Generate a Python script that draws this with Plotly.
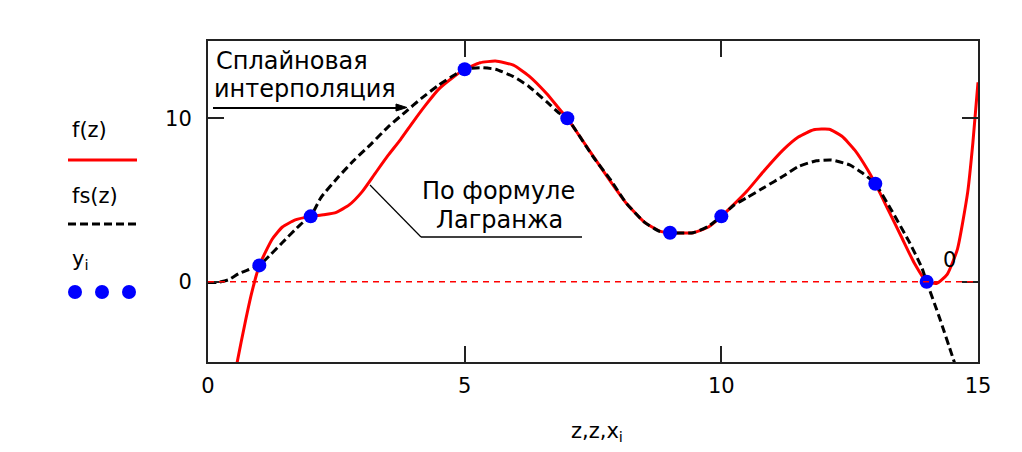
import plotly.graph_objects as go

# ---- data ----
x_i = [1, 2, 5, 7, 9, 10, 13, 14]
y_i = [1, 4, 13, 10, 3, 4, 6, 0]

z_f = [0.5, 0.57, 0.72, 0.85, 1.0, 1.25, 1.45, 1.7, 2.0, 2.25, 2.5, 2.75, 3.0, 3.25,
       3.5, 3.75, 4.0, 4.25, 4.5, 4.75, 5.0, 5.3, 5.6, 5.95, 6.25, 6.6, 6.85, 7.0,
       7.5, 7.85, 8.15, 8.5, 8.8, 9.0, 9.45, 9.75, 10.0, 10.25, 10.5, 10.85, 11.2,
       11.5, 11.8, 12.1, 12.35, 12.6, 12.85, 13.0, 13.25, 13.5, 13.75, 14.0, 14.2,
       14.4, 14.6, 14.8, 14.9, 15.0]
f_vals = [-6.3, -4.9, -2.55, -0.7, 1.0, 2.6, 3.35, 3.78, 4.0, 4.1, 4.25, 4.7, 5.5, 6.6,
          7.7, 8.7, 9.8, 10.85, 11.8, 12.45, 13.0, 13.4, 13.5, 13.25, 12.6, 11.5, 10.55, 10.0,
          7.7, 6.1, 4.8, 3.65, 3.1, 3.0, 3.0, 3.35, 4.0, 4.75, 5.55, 6.85, 8.05,
          8.85, 9.3, 9.33, 8.9, 8.05, 6.85, 6.0, 4.4, 2.8, 1.2, 0.0, -0.1,
          0.45, 2.0, 5.5, 8.5, 12.2]

z_s = [0.0, 0.2, 0.4, 0.6, 0.8, 1.0, 1.2, 1.45, 1.8, 2.0, 2.2, 2.55, 2.85, 3.2, 3.5,
       3.85, 4.15, 4.5, 4.8, 5.0, 5.3, 5.6, 5.95, 6.25, 6.6, 6.85, 7.0, 7.5, 7.85,
       8.15, 8.5, 8.8, 9.0, 9.45, 9.75, 10.0, 10.25, 10.5, 10.85, 11.2, 11.5, 11.85,
       12.15, 12.5, 12.75, 13.0, 13.3, 13.65, 13.9, 14.0, 14.25, 14.5, 14.6]
fs_vals = [-0.05, -0.03, 0.12, 0.5, 0.75, 1.0, 1.6, 2.4, 3.5, 4.0, 5.15, 6.45, 7.45, 8.5, 9.45,
           10.4, 11.2, 12.05, 12.65, 13.0, 13.1, 13.0, 12.55, 11.95, 11.0, 10.3, 10.0, 7.65, 6.2,
           4.8, 3.65, 3.08, 3.0, 3.0, 3.4, 4.0, 4.7, 5.15, 5.8, 6.45, 7.05, 7.4,
           7.45, 7.15, 6.65, 6.0, 4.45, 2.5, 0.9, 0.0, -2.2, -4.55, -5.5]

marker_y = 0
x_ticks = [0, 5, 10, 15]
y_ticks = [0, 10]
x_range = [0, 15]
y_range = [-4.91, 14.73]

# ---- layout helpers (pixel -> paper) ----
W, H = 1022, 452
L, R, T, B = 208, 44, 41, 90
def px(X):
    return (X - L) / (W - L - R)
def py(Y):
    return (H - B - Y) / (H - T - B)

FONT = "DejaVu Sans"

fig = go.Figure()
fig.add_trace(go.Scatter(x=z_f, y=f_vals, mode="lines", name="f(z)",
                         line=dict(color="#FF0000", width=3, shape="spline", smoothing=0.5)))
fig.add_trace(go.Scatter(x=z_s, y=fs_vals, mode="lines", name="fs(z)",
                         line=dict(color="#000000", width=3, dash="8px,4px",
                                   shape="spline", smoothing=0.5)))
fig.add_trace(go.Scatter(x=x_i, y=y_i, mode="markers", name="y_i",
                         marker=dict(color="#0000FF", size=14)))

shapes = []
ann = []
# marker line y = 0
shapes.append(dict(type="line", xref="x domain", yref="y", x0=0, x1=1, y0=marker_y, y1=marker_y,
                   line=dict(color="#FF0000", width=1.5, dash="6px,5px"), layer="above"))
# callout: spline
ann.append(dict(x=px(214), y=py(61), xref="paper", yref="paper", xanchor="left", yanchor="middle",
                text="Сплайновая", showarrow=False, font=dict(family=FONT, size=24, color="#000")))
ann.append(dict(x=px(212), y=py(89), xref="paper", yref="paper", xanchor="left", yanchor="middle",
                text="интерполяция", showarrow=False, font=dict(family=FONT, size=24, color="#000")))
shapes.append(dict(type="path", xref="paper", yref="paper",
                   path=f"M {px(213)},{py(108)} L {px(400)},{py(108)}",
                   line=dict(color="#000", width=2), layer="above"))
shapes.append(dict(type="path", xref="paper", yref="paper",
                   path=f"M {px(396)},{py(104)} L {px(407)},{py(107.5)} L {px(396)},{py(111)} Z",
                   fillcolor="#000", line=dict(color="#000", width=1), layer="above"))
# callout: Lagrange
ann.append(dict(x=px(498), y=py(191), xref="paper", yref="paper", xanchor="center", yanchor="middle",
                text="По формуле", showarrow=False, font=dict(family=FONT, size=24, color="#000")))
ann.append(dict(x=px(499), y=py(220), xref="paper", yref="paper", xanchor="center", yanchor="middle",
                text="Лагранжа", showarrow=False, font=dict(family=FONT, size=24, color="#000")))
shapes.append(dict(type="line", xref="paper", yref="paper", x0=px(370), y0=py(185), x1=px(421), y1=py(237),
                   line=dict(color="#000", width=1.2)))
shapes.append(dict(type="line", xref="paper", yref="paper", x0=px(421), y0=py(237), x1=px(582), y1=py(237),
                   line=dict(color="#000", width=1.5)))
# marker label
ann.append(dict(x=14.45, y=marker_y, xref="x", yref="y", yshift=22, xanchor="center", yanchor="middle",
                text=str(marker_y), showarrow=False, font=dict(family=FONT, size=21, color="#000")))

# legend (Mathcad style: label above sample)
ann.append(dict(x=px(70), y=py(130), xref="paper", yref="paper", xanchor="left", yanchor="middle",
                text="f(z)", showarrow=False, font=dict(family=FONT, size=21, color="#000")))
shapes.append(dict(type="line", xref="paper", yref="paper", x0=px(68), y0=py(160), x1=px(137), y1=py(160),
                   line=dict(color="#FF0000", width=3)))
ann.append(dict(x=px(70), y=py(196), xref="paper", yref="paper", xanchor="left", yanchor="middle",
                text="fs(z)", showarrow=False, font=dict(family=FONT, size=21, color="#000")))
shapes.append(dict(type="line", xref="paper", yref="paper", x0=px(68), y0=py(224), x1=px(137), y1=py(224),
                   line=dict(color="#000", width=3, dash="8px,4px")))
ann.append(dict(x=px(70), y=py(260), xref="paper", yref="paper", xanchor="left", yanchor="middle",
                text="y<sub>i</sub>", showarrow=False, font=dict(family=FONT, size=21, color="#000")))
for cx in (75, 102, 129):
    shapes.append(dict(type="circle", xref="paper", yref="paper", x0=px(cx - 7), x1=px(cx + 7),
                       y0=py(292 + 7), y1=py(292 - 7), fillcolor="#0000FF", line=dict(width=0)))
# axis title
ann.append(dict(x=px(597), y=py(432), xref="paper", yref="paper", xanchor="center", yanchor="middle",
                text="z,z,x<sub>i</sub>", showarrow=False, font=dict(family=FONT, size=21, color="#000")))

axis_common = dict(showgrid=False, zeroline=False, showline=True, linecolor="#222", linewidth=2,
                   mirror="ticks", ticks="inside", ticklen=16, tickwidth=2, tickcolor="#222",
                   tickfont=dict(family=FONT, size=21, color="#000"))
fig.update_layout(
    width=W, height=H,
    margin=dict(l=L, r=R, t=T, b=B),
    paper_bgcolor="white", plot_bgcolor="white",
    showlegend=False,
    xaxis=dict(range=x_range, tickvals=x_ticks, ticklabelstandoff=4, **axis_common),
    yaxis=dict(range=y_range, tickvals=y_ticks, ticklabelstandoff=10, **axis_common),
    shapes=shapes, annotations=ann,
)
fig.write_html("out.html", config={"displayModeBar": False},
               post_script="document.body.style.margin='0';document.body.style.overflow='hidden';")
